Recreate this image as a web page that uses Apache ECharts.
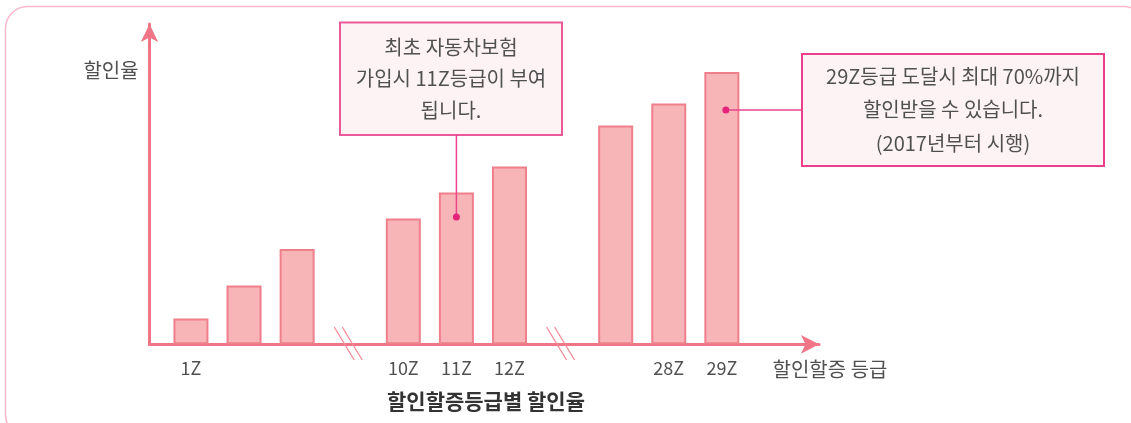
<!DOCTYPE html>
<html>
<head>
<meta charset="utf-8">
<script src="https://cdn.jsdelivr.net/npm/echarts@6/dist/echarts.min.js"></script>
<style>
    html, body { margin: 0; padding: 0; background: #fff; }
    #chart { width: 1131px; height: 423px; }
</style>
</head>
<body>
<div id="chart"></div>
<script>
    // 등급 (빈 칸은 축 생략 구간)
    var grades = ['1Z', '2Z', '3Z', '', '10Z', '11Z', '12Z', '', '27Z', '28Z', '29Z'];
    // 눈금 라벨 (그림에 표시된 것만)
    var tickLabels = ['1Z', '', '', '', '10Z', '11Z', '12Z', '', '', '28Z', '29Z'];
    // 할인율 (%)
    var rates = [6.6, 15.1, 24.5, null, 32.3, 39.0, 45.7, null, 56.2, 61.9, 70.0];
    var yMax = 80;

    var note1 = ['최초 자동차보험', '가입시 11Z등급이 부여', '됩니다.'];
    var note2 = ['29Z등급 도달시 최대 70%까지', '할인받을 수 있습니다.', '(2017년부터 시행)'];

    var font = '"Noto Sans CJK KR", "Noto Sans", sans-serif';
    var axisColor = '#f07586';
    var textColor = '#505050';

    var myChart = echarts.init(document.getElementById('chart'));

    var options = {
        animation: false,
        grid: [
            {left: 164.4, width: 584, top: 33, bottom: 78.7},
            // 축 선과 화살표만 그리는 격자
            {left: 149.5, right: 312, top: 24, bottom: 78.7}
        ],
        xAxis: [
            {
                type: 'category',
                gridIndex: 0,
                data: grades,
                axisLine: {show: false},
                axisTick: {show: false},
                splitLine: {show: false},
                axisLabel: {
                    interval: 0,
                    margin: 15,
                    fontSize: 18,
                    fontFamily: font,
                    color: textColor,
                    formatter: function (v, i) {
                        return tickLabels[i];
                    }
                }
            },
            {
                type: 'value',
                gridIndex: 1,
                min: 0,
                max: 1,
                axisLine: {
                    show: true,
                    symbol: ['none', 'arrow'],
                    symbolSize: [14, 18],
                    lineStyle: {color: axisColor, width: 3}
                },
                axisTick: {show: false},
                axisLabel: {show: false},
                splitLine: {show: false}
            }
        ],
        yAxis: [
            {
                type: 'value',
                gridIndex: 0,
                min: 0,
                max: yMax,
                show: false
            },
            {
                type: 'value',
                gridIndex: 1,
                min: 0,
                max: 1,
                axisLine: {
                    show: true,
                    symbol: ['none', 'arrow'],
                    symbolSize: [13, 18],
                    lineStyle: {color: axisColor, width: 3}
                },
                axisTick: {show: false},
                axisLabel: {show: false},
                splitLine: {show: false}
            }
        ],
        series: [
            {
                type: 'bar',
                xAxisIndex: 0,
                yAxisIndex: 0,
                barWidth: 35,
                itemStyle: {
                    color: '#f7b5b8',
                    borderColor: '#f07f8c',
                    borderWidth: 2
                },
                data: rates
            }
        ]
    };
    myChart.setOption(options);

    // 보조 그래픽: 테두리, 축 이름, 생략 표시, 설명 상자
    function px(idx, val) {
        return myChart.convertToPixel({xAxisIndex: 0, yAxisIndex: 0}, [idx, val]);
    }

    var elems = [];
    elems.push({
        type: 'rect', z: 0,
        shape: {x: 5.5, y: 6.5, width: 1140, height: 430, r: 22},
        style: {fill: 'none', stroke: '#fbb6c9', lineWidth: 1.5}
    });
    elems.push({
        type: 'text', z: 10,
        style: {text: '할인율', x: 111, y: 70, align: 'center', verticalAlign: 'middle',
            font: '20px ' + font, fill: textColor}
    });
    elems.push({
        type: 'text', z: 10,
        style: {text: '할인할증 등급', x: 830, y: 369, align: 'center', verticalAlign: 'middle',
            font: '20px ' + font, fill: textColor}
    });
    elems.push({
        type: 'text', z: 10,
        style: {text: '할인할증등급별 할인율', x: 486, y: 401, align: 'center', verticalAlign: 'middle',
            font: 'bold 21px ' + font, fill: '#333'}
    });

    // 축 생략 표시 (//)
    [3, 7].forEach(function (i) {
        var cx = px(i, 0)[0] - 2;
        [[-14, 6], [-6, 14]].forEach(function (d) {
            elems.push({
                type: 'line', z: 10,
                shape: {x1: cx + d[0], y1: 327, x2: cx + d[1], y2: 360},
                style: {stroke: '#f58a98', lineWidth: 1.3}
            });
        });
    });

    // 설명 상자 1
    var d1 = px(5, 32.7);
    elems.push({
        type: 'line', z: 12,
        shape: {x1: d1[0], y1: 135, x2: d1[0], y2: d1[1]},
        style: {stroke: '#e8458d', lineWidth: 1.5}
    });
    elems.push({type: 'circle', z: 13, shape: {cx: d1[0], cy: d1[1], r: 3.5}, style: {fill: '#e6237a'}});
    elems.push({
        type: 'rect', z: 11,
        shape: {x: 340, y: 22.5, width: 222, height: 112.5},
        style: {fill: '#fdf3f5', stroke: '#ea5a98', lineWidth: 2}
    });
    elems.push({
        type: 'text', z: 14,
        style: {text: note1.join('\n'), x: 451, y: 78.5, align: 'center', verticalAlign: 'middle',
            lineHeight: 31.5, font: '20px ' + font, fill: textColor}
    });

    // 설명 상자 2
    var d2 = px(10, 60.2);
    d2[0] += 4;
    elems.push({
        type: 'line', z: 12,
        shape: {x1: d2[0], y1: d2[1], x2: 802, y2: d2[1]},
        style: {stroke: '#e8458d', lineWidth: 1.5}
    });
    elems.push({type: 'circle', z: 13, shape: {cx: d2[0], cy: d2[1], r: 3.5}, style: {fill: '#e6237a'}});
    elems.push({
        type: 'rect', z: 11,
        shape: {x: 802, y: 54, width: 302, height: 112},
        style: {fill: '#fdf3f5', stroke: '#ea3f8a', lineWidth: 2}
    });
    elems.push({
        type: 'text', z: 14,
        style: {text: note2.join('\n'), x: 953, y: 109.5, align: 'center', verticalAlign: 'middle',
            lineHeight: 33.5, font: '20px ' + font, fill: textColor}
    });

    myChart.setOption({graphic: {elements: elems}});
</script>
</body>
</html>
